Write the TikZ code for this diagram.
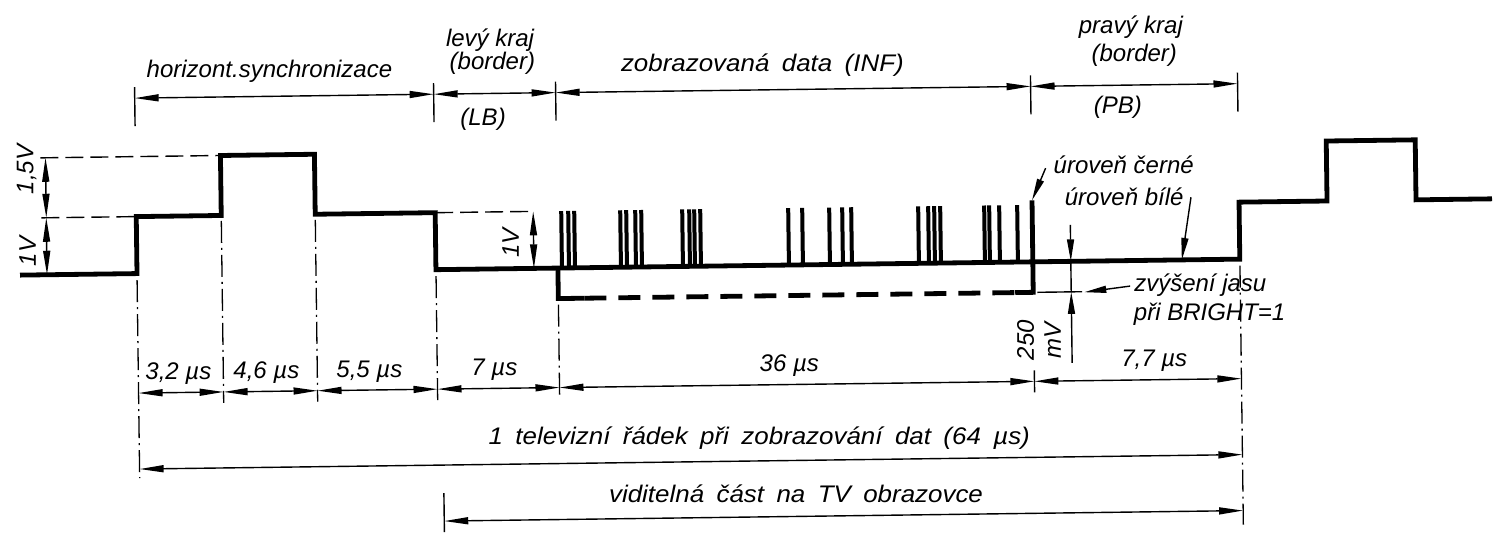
\documentclass[tikz,border=0pt]{standalone}
\usepackage{fontspec}
\usepackage{graphicx}
\setmainfont{Liberation Sans}
\usetikzlibrary{arrows.meta}
\newcommand{\wtxt}[1]{\scalebox{1.08}[1]{\spaceskip=11.5pt plus 2pt minus 2pt\relax #1}}
\begin{document}
\begin{tikzpicture}[x=1pt,y=-1pt,
  sig/.style={line width=4.8pt, line join=miter},
  pulse/.style={line width=4pt},
  dimline/.style={line width=1.4pt, {Triangle[length=24pt,width=7pt]}-{Triangle[length=24pt,width=7pt]}},
  onearrow/.style={line width=1.4pt, -{Triangle[length=22pt,width=7pt]}},
  tickline/.style={line width=1.4pt},
  extline/.style={line width=1.3pt, dash pattern=on 22pt off 5pt on 2pt off 5pt},
  levline/.style={line width=1.4pt, dash pattern=on 18pt off 7pt},
  lbl/.style={font=\fontsize{24}{27}\selectfont\itshape, inner sep=0pt},
]
\useasboundingbox (0,0) rectangle (1509,542);
\begin{scope}[rotate around={0.75:(755,271)}]
% key points of the signal
\coordinate (s0) at (20,265.5);
\coordinate (s1) at (137,265.5);
\coordinate (s2) at (137,208.5);
\coordinate (s3) at (222,208.5);
\coordinate (s4) at (222,148.5);
\coordinate (s5) at (316,148.5);
\coordinate (s6) at (316,208.5);
\coordinate (s7) at (436,208.5);
\coordinate (s8) at (436,265.5);
\coordinate (s9) at (1240,265.5);
\coordinate (s10) at (1240,208.5);
\coordinate (s11) at (1328,208.5);
\coordinate (s12) at (1328,148.5);
\coordinate (s13) at (1417,148.5);
\coordinate (s14) at (1417,208.5);
\coordinate (s15) at (1493,208.5);
\draw[sig] (s0) -- (s1) -- (s2) -- (s3) -- (s4) -- (s5) -- (s6) -- (s7) -- (s8) -- (s9) -- (s10) -- (s11) -- (s12) -- (s13) -- (s14) -- (s15);
% data pulses
\foreach \x in {562,569,575,621,627,636,642,683,690,695,701,789,803,830,843,852,919,929,935,941,985,990,1000,1018}
  \draw[pulse] (\x,265.5) -- (\x,208.5);
% bright level
\coordinate (b0) at (558,265.5);
\coordinate (b1) at (558,296);
\coordinate (b2) at (584,296);
\coordinate (b3) at (1015,296);
\coordinate (b4) at (1033,296);
\coordinate (b5) at (1033,204);
\draw[sig] (b0) -- (b1) -- (b2);
\draw[sig, dash pattern=on 22pt off 12pt] (b2) -- (b3);
\draw[sig] (b3) -- (b4) -- (b5);
% left voltage dimension
\coordinate (lv0) at (47,148.5);
\coordinate (lv1) at (47,208.5);
\coordinate (lv2) at (47,265.5);
\draw[levline] (42,148.5) -- (s4);
\draw[levline] (42,208.5) -- (s2);
\draw[dimline] (lv0) -- (lv1);
\draw[dimline] (lv1) -- (lv2);
\node[lbl, rotate=90] (v15) at (28,160) {1,5V};
\node[lbl, rotate=90] (v1a) at (28,242) {1V};
% inner 1V
\coordinate (iv0) at (534,208.5);
\coordinate (iv1) at (534,265.5);
\draw[levline] (s7) -- (iv0);
\draw[dimline] (iv0) -- (iv1);
\node[lbl, rotate=90] (v1b) at (511,240) {1V};
% top dimensions
\foreach \x in {137,436,558,1033,1240} \draw[tickline] (\x,79) -- (\x,118);
\coordinate (t0) at (137,90);
\coordinate (t1) at (436,90);
\coordinate (t2) at (558,90);
\coordinate (t3) at (1033,90);
\coordinate (t4) at (1240,90);
\draw[dimline] (t0) -- (t1);
\draw[dimline] (t1) -- (t2);
\draw[dimline] (t2) -- (t3);
\draw[dimline] (t3) -- (t4);
\node[lbl, anchor=base] (hs) at (272,71.5) {horizont.synchronizace};
\node[lbl, anchor=base] (lk) at (493,43.5) {levý kraj};
\node[lbl, anchor=base] (lb1) at (495,66.5) {(border)};
\node[lbl, anchor=base] (lb) at (485,121.5) {(LB)};
\node[lbl, anchor=base] (inf) at (765,71.8) {\wtxt{zobrazovaná data (INF)}};
\node[lbl, anchor=base] (pk) at (1134,38) {pravý kraj};
\node[lbl, anchor=base] (pb1) at (1137,66.5) {(border)};
\node[lbl, anchor=base] (pb) at (1120,117.8) {(PB)};
% extension lines
\draw[extline] (137,272) -- (137,470);
\draw[extline] (222,214) -- (222,396);
\draw[extline] (316,214) -- (316,396);
\draw[extline] (436,272) -- (436,396);
\draw[extline] (558,302) -- (558,396);
\draw[tickline] (1033,374) -- (1033,396);
\draw[extline] (1240,272) -- (1240,531);
\draw[tickline] (441,489) -- (441,528);
% bottom dimensions
\coordinate (d0) at (137,385);
\coordinate (d1) at (222,385);
\coordinate (d2) at (316,385);
\coordinate (d3) at (436,385);
\coordinate (d4) at (558,385);
\coordinate (d5) at (1033,385);
\coordinate (d6) at (1240,385);
\draw[dimline] (d0) -- (d1);
\draw[dimline] (d1) -- (d2);
\draw[dimline] (d2) -- (d3);
\draw[dimline] (d3) -- (d4);
\draw[dimline] (d4) -- (d5);
\draw[dimline] (d5) -- (d6);
\node[lbl, anchor=base] (m1) at (177,372) {3,2 µs};
\node[lbl, anchor=base] (m2) at (265,372) {4,6 µs};
\node[lbl, anchor=base] (m3) at (368,372) {5,5 µs};
\node[lbl, anchor=base] (m4) at (493,372) {7 µs};
\node[lbl, anchor=base] (m5) at (788,372) {36 µs};
\node[lbl, anchor=base] (m6) at (1153,372) {7,7 µs};
\coordinate (r0) at (137,461);
\coordinate (r1) at (1240,461);
\draw[dimline] (r0) -- (r1);
\node[lbl, anchor=base] (tvr) at (757,445) {\wtxt{1 televizní řádek při zobrazování dat (64 µs)}};
\coordinate (w0) at (441,517);
\coordinate (w1) at (1240,517);
\draw[dimline] (w0) -- (w1);
\node[lbl, anchor=base] (vis) at (793,503) {\wtxt{viditelná část na TV obrazovce}};
% right annotations
\node[lbl, anchor=base] (cer) at (1125,178) {úroveň černé};
\node[lbl, anchor=base] (bil) at (1125,210) {úroveň bílé};
\coordinate (ca) at (1047,172);
\draw[onearrow] (ca) -- (b5);
\coordinate (ba0) at (1192,203);
\coordinate (ba1) at (1182,265.5);
\draw[onearrow] (ba0) -- (ba1);
\coordinate (mv0) at (1071,229);
\coordinate (mv1) at (1071,265.5);
\coordinate (mv2) at (1071,296);
\coordinate (mv3) at (1071,367);
\draw[onearrow] (mv0) -- (mv1);
\draw[onearrow] (mv3) -- (mv2);
\draw[tickline] (mv1) -- (mv2);
\coordinate (he) at (1082,296);
\draw[tickline] (1037,296) -- (he);
\node[lbl, rotate=90, align=center] (mv) at (1038,344) {250\\mV};
\node[lbl, anchor=base] (zv) at (1200,297.4) {zvýšení jasu};
\node[lbl, anchor=base] (br) at (1209,326) {při BRIGHT=1};
\coordinate (za) at (1130,291);
\draw[onearrow] (za) -- (1084,296.5);
\end{scope}
\end{tikzpicture}
\end{document}
